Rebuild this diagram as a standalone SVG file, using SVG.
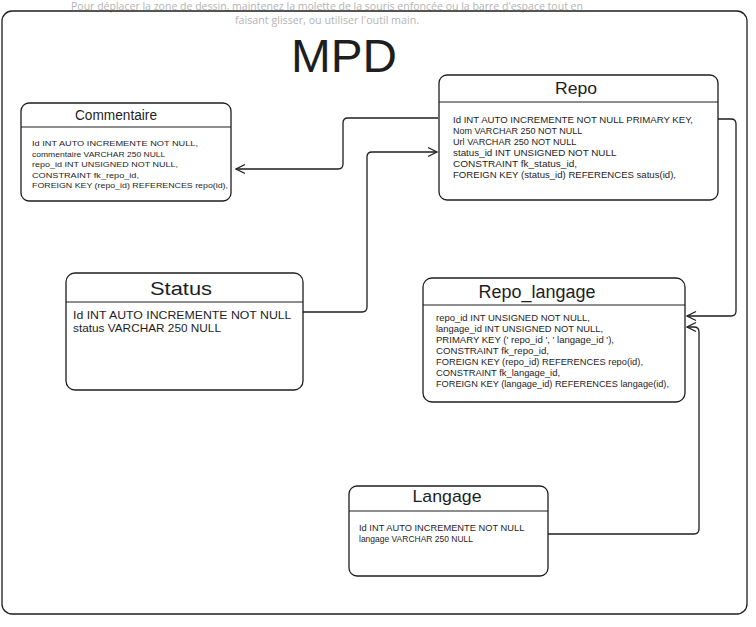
<svg xmlns="http://www.w3.org/2000/svg" width="756" height="627" viewBox="0 0 756 627">
<style>
.box{fill:#ffffff;stroke:#1e1e1e;stroke-width:1.3}
.hdr{stroke:#1e1e1e;stroke-width:1.2}
.ttl{font-family:"Liberation Sans","DejaVu Sans",sans-serif;fill:#1e1e1e;text-anchor:middle}
.txt{font-family:"Liberation Sans","DejaVu Sans",sans-serif;fill:#1e1e1e}
.hint{font-family:"Open Sans","Noto Sans",sans-serif;font-size:11px;fill:#b4b4b4;text-anchor:middle}
.con{fill:none;stroke:#1e1e1e;stroke-width:1.3;marker-end:url(#arr)}
</style>
<defs>
<marker id="arr" markerUnits="userSpaceOnUse" markerWidth="14" markerHeight="14" refX="0" refY="0" viewBox="-10 -7 12 14" orient="auto">
<path d="M-9,-4.5 L0,0 L-9,4.5" fill="none" stroke="#1e1e1e" stroke-width="1.3"/>
</marker>
</defs>
<rect width="756" height="627" fill="#ffffff"/>
<text class="hint" x="327" y="10" font-size="10.5" textLength="512" lengthAdjust="spacingAndGlyphs">Pour déplacer la zone de dessin, maintenez la molette de la souris enfoncée ou la barre d'espace tout en</text>
<text class="hint" x="327" y="24" textLength="184" lengthAdjust="spacingAndGlyphs">faisant glisser, ou utiliser l'outil main.</text>
<rect id="frame" x="2" y="11" width="745" height="603" rx="10" fill="none" stroke="#1e1e1e" stroke-width="1.3"/>
<text id="title" class="ttl" x="344" y="72" font-size="46" textLength="106" lengthAdjust="spacingAndGlyphs">MPD</text>

<g id="connectors">
<path class="con" d="M438,118 L348,118 Q343,118 343,123 L343,164 Q343,169 338,169 L236,169"/>
<path class="con" d="M303,312 L362,312 Q367,312 367,307 L367,157 Q367,152 372,152 L437,152"/>
<path class="con" d="M718,119 L731,119 Q736,119 736,124 L736,311 Q736,316 731,316 L687,316"/>
<path class="con" d="M548,534 L694,534 Q699,534 699,529 L699,332 Q699,327 694,327 L687,327"/>
</g>

<g id="commentaire">
<rect class="box" x="21" y="103" width="210" height="98" rx="8"/>
<line class="hdr" x1="21" y1="127" x2="231" y2="127"/>
<text class="ttl" x="116" y="120" font-size="14" textLength="82" lengthAdjust="spacingAndGlyphs">Commentaire</text>
<text class="txt" font-size="8">
<tspan x="32" y="146" textLength="166" lengthAdjust="spacingAndGlyphs">Id INT AUTO INCREMENTE NOT NULL,</tspan>
<tspan x="32" y="156.5" textLength="133" lengthAdjust="spacingAndGlyphs">commentaire VARCHAR 250 NULL</tspan>
<tspan x="32" y="167" textLength="146" lengthAdjust="spacingAndGlyphs">repo_id INT UNSIGNED NOT NULL,</tspan>
<tspan x="32" y="177.5" textLength="107" lengthAdjust="spacingAndGlyphs">CONSTRAINT fk_repo_id,</tspan>
<tspan x="32" y="188" textLength="196" lengthAdjust="spacingAndGlyphs">FOREIGN KEY (repo_id) REFERENCES repo(id),</tspan>
</text>
</g>

<g id="repo">
<rect class="box" x="439" y="75" width="279" height="125" rx="8"/>
<line class="hdr" x1="439" y1="102" x2="718" y2="102"/>
<text class="ttl" x="576" y="94" font-size="17" textLength="42" lengthAdjust="spacingAndGlyphs">Repo</text>
<text class="txt" font-size="9">
<tspan x="453" y="123" textLength="240" lengthAdjust="spacingAndGlyphs">Id INT AUTO INCREMENTE NOT NULL PRIMARY KEY,</tspan>
<tspan x="453" y="134" textLength="129" lengthAdjust="spacingAndGlyphs">Nom VARCHAR 250 NOT NULL</tspan>
<tspan x="453" y="145" textLength="123" lengthAdjust="spacingAndGlyphs">Url VARCHAR 250 NOT NULL</tspan>
<tspan x="453" y="156" textLength="163" lengthAdjust="spacingAndGlyphs">status_id INT UNSIGNED NOT NULL</tspan>
<tspan x="453" y="167" textLength="124" lengthAdjust="spacingAndGlyphs">CONSTRAINT fk_status_id,</tspan>
<tspan x="453" y="178" textLength="223" lengthAdjust="spacingAndGlyphs">FOREIGN KEY (status_id) REFERENCES satus(id),</tspan>
</text>
</g>

<g id="status">
<rect class="box" x="66" y="273" width="237" height="117" rx="9"/>
<line class="hdr" x1="66" y1="302" x2="303" y2="302"/>
<text class="ttl" x="181" y="295" font-size="18" textLength="62" lengthAdjust="spacingAndGlyphs">Status</text>
<text class="txt" font-size="11">
<tspan x="73" y="319" textLength="218" lengthAdjust="spacingAndGlyphs">Id INT AUTO INCREMENTE NOT NULL</tspan>
<tspan x="73" y="332" textLength="148" lengthAdjust="spacingAndGlyphs">status VARCHAR 250 NULL</tspan>
</text>
</g>

<g id="repo_langage">
<rect class="box" x="423" y="278" width="262" height="124" rx="9"/>
<line class="hdr" x1="423" y1="305" x2="685" y2="305"/>
<text class="ttl" x="537" y="298" font-size="18" textLength="117" lengthAdjust="spacingAndGlyphs">Repo_langage</text>
<text class="txt" font-size="9">
<tspan x="436" y="321" textLength="154" lengthAdjust="spacingAndGlyphs">repo_id INT UNSIGNED NOT NULL,</tspan>
<tspan x="436" y="332" textLength="167" lengthAdjust="spacingAndGlyphs">langage_id INT UNSIGNED NOT NULL,</tspan>
<tspan x="436" y="343" textLength="178" lengthAdjust="spacingAndGlyphs">PRIMARY KEY (' repo_id ', ' langage_id '),</tspan>
<tspan x="436" y="354" textLength="113" lengthAdjust="spacingAndGlyphs">CONSTRAINT fk_repo_id,</tspan>
<tspan x="436" y="365" textLength="207" lengthAdjust="spacingAndGlyphs">FOREIGN KEY (repo_id) REFERENCES repo(id),</tspan>
<tspan x="436" y="376" textLength="124" lengthAdjust="spacingAndGlyphs">CONSTRAINT fk_langage_id,</tspan>
<tspan x="436" y="387" textLength="233" lengthAdjust="spacingAndGlyphs">FOREIGN KEY (langage_id) REFERENCES langage(id),</tspan>
</text>
</g>

<g id="langage">
<rect class="box" x="349" y="486" width="199" height="90" rx="8"/>
<line class="hdr" x1="349" y1="511" x2="548" y2="511"/>
<text class="ttl" x="447" y="502" font-size="17" textLength="69" lengthAdjust="spacingAndGlyphs">Langage</text>
<text class="txt" font-size="8.5">
<tspan x="359" y="531" textLength="165" lengthAdjust="spacingAndGlyphs">Id INT AUTO INCREMENTE NOT NULL</tspan>
<tspan x="359" y="542" textLength="114" lengthAdjust="spacingAndGlyphs">langage VARCHAR 250 NULL</tspan>
</text>
</g>
</svg>
